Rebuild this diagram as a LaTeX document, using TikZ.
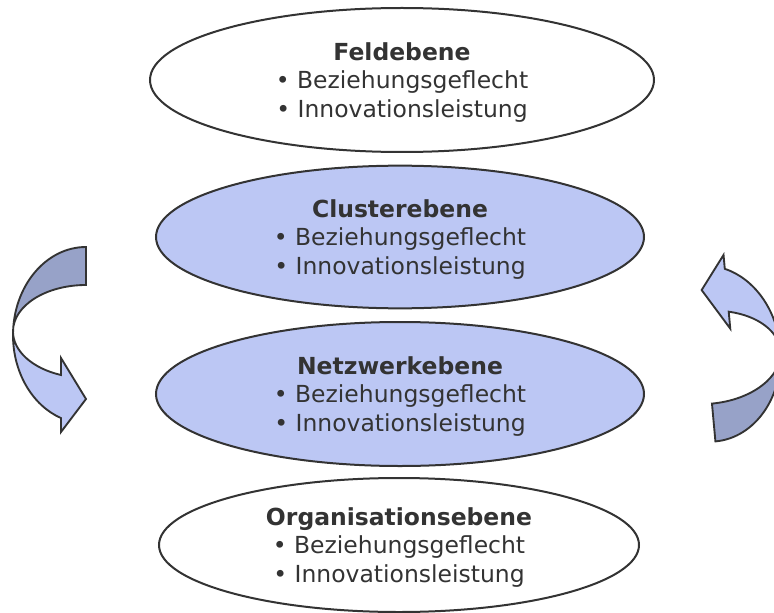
\documentclass[tikz,border=0pt]{standalone}
\usepackage{fontspec}
\setmainfont{DejaVu Sans}
\usetikzlibrary{shapes.geometric}
\definecolor{lightblue}{HTML}{BCC7F4}
\definecolor{darkblue}{HTML}{97A2C8}
\definecolor{ink}{HTML}{333333}
\begin{document}
\begin{tikzpicture}[x=0.75pt,y=-0.75pt,
  level/.style={ellipse, draw=ink, line width=1.5pt, inner sep=0pt, text=ink,
    align=center, font=\fontsize{17.6}{21.4}\selectfont},
  arrowpart/.style={draw=ink, line width=1.4pt, line join=miter}]
\useasboundingbox (0,0) rectangle (774,613);
\clip (0,0) rectangle (774,613);

\node[level, fill=white, minimum width=378pt, minimum height=108pt] (feld) at (402,80)
  {\rule{0pt}{17pt}\textbf{Feldebene}\\• Beziehungsgeflecht\\• Innovationsleistung};
\node[level, fill=lightblue, minimum width=366pt, minimum height=107pt] (cluster) at (400,237)
  {\rule{0pt}{17pt}\textbf{Clusterebene}\\• Beziehungsgeflecht\\• Innovationsleistung};
\node[level, fill=lightblue, minimum width=366pt, minimum height=108pt] (netz) at (400,394)
  {\rule{0pt}{17pt}\textbf{Netzwerkebene}\\• Beziehungsgeflecht\\• Innovationsleistung};
\node[level, fill=white, minimum width=360pt, minimum height=100.5pt] (org) at (399,545)
  {\rule{0pt}{17pt}\textbf{Organisationsebene}\\• Beziehungsgeflecht\\• Innovationsleistung};

% left curved arrow
\path[arrowpart, fill=darkblue] (86,247)
  arc[start angle=270, end angle=180, x radius=73, y radius=88.2] -- (13,331.4)
  arc[start angle=180, end angle=270, x radius=73, y radius=46.4] -- cycle;
\path[arrowpart, fill=lightblue] (13,335.2)
  arc[start angle=180, end angle=110, x radius=73, y radius=88.2]
  -- (61,432) -- (86,399) -- (61,358) -- (61,375)
  arc[start angle=110, end angle=180, x radius=73, y radius=46.4] -- cycle;

% right curved arrow (same shape turned round)
\begin{scope}[rotate around={185.2:(396.3,358.5)}]
\path[arrowpart, fill=darkblue] (86,247)
  arc[start angle=270, end angle=180, x radius=73, y radius=88.2] -- (13,331.4)
  arc[start angle=180, end angle=270, x radius=73, y radius=46.4] -- cycle;
\path[arrowpart, fill=lightblue] (13,335.2)
  arc[start angle=180, end angle=110, x radius=73, y radius=88.2]
  -- (61,432) -- (86,399) -- (61,358) -- (61,375)
  arc[start angle=110, end angle=180, x radius=73, y radius=46.4] -- cycle;
\end{scope}
\end{tikzpicture}
\end{document}
